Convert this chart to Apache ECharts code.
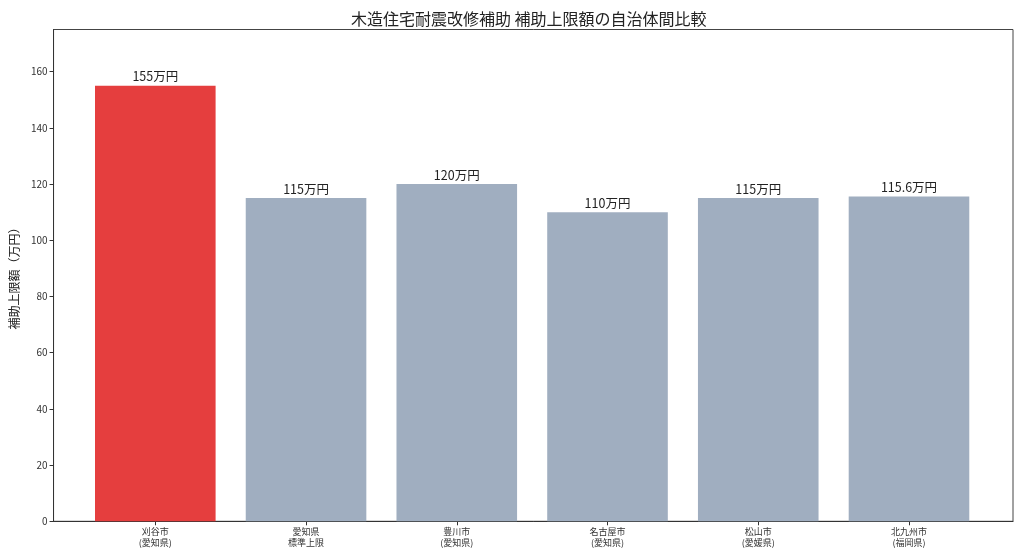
<!DOCTYPE html>
<html><head><meta charset="utf-8">
<script src="https://cdn.jsdelivr.net/npm/echarts@6/dist/echarts.min.js"></script>
<style>html,body{margin:0;padding:0;background:#fff}#c{width:1024px;height:559px}</style>
</head><body><div id="c"></div>
<script>
const categories = ["刈谷市\n(愛知県)", "愛知県\n標準上限", "豊川市\n(愛知県)", "名古屋市\n(愛知県)", "松山市\n(愛媛県)", "北九州市\n(福岡県)"];
const values = [155, 115, 120, 110, 115, 115.6];
const valueLabels = ["155万円", "115万円", "120万円", "110万円", "115万円", "115.6万円"];
const yTicks = [0, 20, 40, 60, 80, 100, 120, 140, 160];
const barColors = ["#e53e3e", "#a0aec0", "#a0aec0", "#a0aec0", "#a0aec0", "#a0aec0"];

const font = '"Noto Sans CJK JP", "Noto Sans", sans-serif';
const xPositions = categories.map((c, i) => i);
const chart = echarts.init(document.getElementById('c'));
chart.setOption({
  animation: false,
  backgroundColor: '#fff',
  textStyle: { fontFamily: font },
  title: {
    text: '木造住宅耐震改修補助 補助上限額の自治体間比較',
    left: 346, top: 6,
    textStyle: { fontFamily: font, fontSize: 16, fontWeight: 'normal', color: '#222' }
  },
  grid: { left: 52, right: 11, top: 29.5, bottom: 37.7, show: true, borderColor: '#444', borderWidth: 1, containLabel: false },
  xAxis: {
    type: 'value', min: -0.675, max: 5.69,
    splitLine: { show: false },
    axisLine: { show: true, onZero: false, lineStyle: { color: '#333' } },
    axisTick: { show: true, length: 4, customValues: xPositions, lineStyle: { color: '#333' } },
    axisLabel: { customValues: xPositions, fontSize: 9, color: '#333', lineHeight: 11, margin: 5,
      formatter: v => categories[Math.round(v)] || '' }
  },
  yAxis: {
    type: 'value', min: 0, max: 175,
    name: '補助上限額（万円）', nameLocation: 'middle', nameGap: 28, nameRotate: 90,
    nameTextStyle: { fontSize: 12, color: '#222', fontFamily: font },
    splitLine: { show: false },
    axisLine: { show: true, onZero: false, lineStyle: { color: '#333' } },
    axisTick: { show: true, length: 4, customValues: yTicks, lineStyle: { color: '#333' } },
    axisLabel: { customValues: yTicks, fontSize: 10, color: '#333', margin: 6 }
  },
  series: [{
    type: 'bar',
    barWidth: '80%',
    data: values.map((v, i) => ({ value: [i, v], itemStyle: { color: barColors[i] } })),
    label: { show: true, position: 'top', distance: 3, fontSize: 12.5, color: '#222', fontFamily: font,
      formatter: p => valueLabels[p.dataIndex] }
  }]
});
</script></body></html>
